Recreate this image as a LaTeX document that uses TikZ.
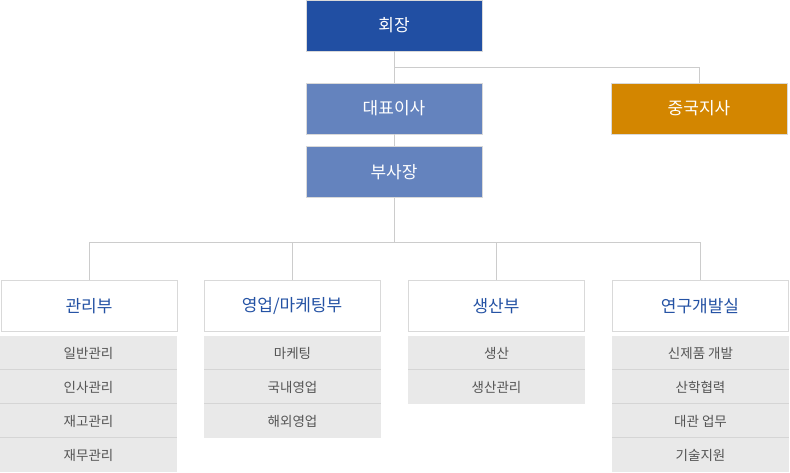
\documentclass[tikz,border=0pt]{standalone}
\usepackage{fontspec}
\setmainfont{Noto Sans CJK KR}
\definecolor{ceoblue}{HTML}{214FA3}
\definecolor{midblue}{HTML}{6483BE}
\definecolor{chinaor}{HTML}{D38600}
\definecolor{deptblue}{HTML}{2452A4}
\definecolor{subbg}{HTML}{E9E9E9}
\definecolor{subline}{HTML}{D5D5D5}
\definecolor{subtext}{HTML}{555555}
\definecolor{conn}{HTML}{CCCCCC}
\definecolor{boxline}{HTML}{D9D9D9}
\tikzset{
  topbox/.style={rectangle, inner sep=0pt, minimum width=176pt, minimum height=51pt, draw=boxline, line width=0.8pt, text=white, font=\fontsize{17}{19}\selectfont},
  deptbox/.style={rectangle, inner sep=0pt, minimum width=176pt, minimum height=51pt, draw=boxline, line width=0.8pt, fill=white, text=deptblue, font=\fontsize{17}{19}\selectfont},
  subbox/.style={rectangle, inner sep=0pt, minimum width=177pt, minimum height=34pt, fill=subbg, text=subtext, font=\fontsize{13.5}{15}\selectfont},
  sepbelow/.style={path picture={\draw[subline, line width=1.4pt] (path picture bounding box.south west) -- (path picture bounding box.south east);}},
  connline/.style={draw=conn, line width=0.9pt}
}
\begin{document}
\begin{tikzpicture}[x=1pt,y=1pt]
\useasboundingbox (0,0) rectangle (790,-472);
% top
\node[topbox, fill=ceoblue] (ceo) at (394,-25.5) {회장};
\node[topbox, fill=midblue] (dae) at (394,-108.5) {대표이사};
\node[topbox, fill=midblue] (bu) at (394,-172) {부사장};
\node[topbox, fill=chinaor] (china) at (699,-108.5) {중국지사};
\coordinate (j1) at (394,-67);
\coordinate (j2) at (394,-242);
% departments
\node[deptbox] (d1) at (89,-306) {관리부};
\node[deptbox] (d2) at (292,-306) {영업/마케팅부};
\node[deptbox] (d3) at (496,-306) {생산부};
\node[deptbox] (d4) at (700,-306) {연구개발실};
% sub items
\node[subbox, sepbelow] (s11) at (88.5,-353) {일반관리};
\node[subbox, sepbelow] (s12) at (88.5,-387) {인사관리};
\node[subbox, sepbelow] (s13) at (88.5,-421) {재고관리};
\node[subbox] (s14) at (88.5,-455) {재무관리};
\node[subbox, sepbelow] (s21) at (292.5,-353) {마케팅};
\node[subbox, sepbelow] (s22) at (292.5,-387) {국내영업};
\node[subbox] (s23) at (292.5,-421) {해외영업};
\node[subbox, sepbelow] (s31) at (496.5,-353) {생산};
\node[subbox] (s32) at (496.5,-387) {생산관리};
\node[subbox, sepbelow] (s41) at (700.5,-353) {신제품 개발};
\node[subbox, sepbelow] (s42) at (700.5,-387) {산학협력};
\node[subbox, sepbelow] (s43) at (700.5,-421) {대관 업무};
\node[subbox] (s44) at (700.5,-455) {기술지원};
% connectors
\draw[connline] (ceo.south) -- (dae.north);
\draw[connline] (j1) -| (china.north);
\draw[connline] (dae.south) -- (bu.north);
\draw[connline] (bu.south) -- (j2);
\draw[connline] (d1.north) -- (d1.north |- j2) -- (d4.north |- j2) -- (d4.north);
\draw[connline] (d2.north) -- (d2.north |- j2);
\draw[connline] (d3.north) -- (d3.north |- j2);
\end{tikzpicture}
\end{document}
